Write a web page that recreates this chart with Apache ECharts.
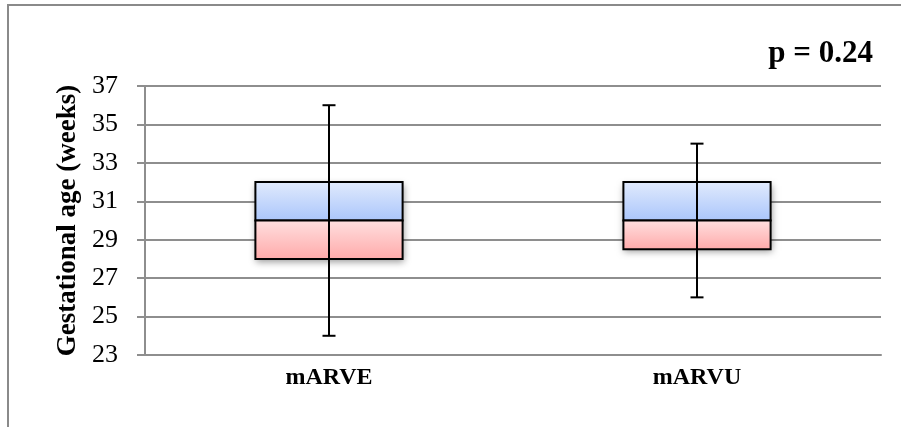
<!DOCTYPE html>
<html>
<head>
<meta charset="utf-8">
<script src="https://cdn.jsdelivr.net/npm/echarts@6/dist/echarts.min.js"></script>
<style>
  html, body { margin: 0; padding: 0; background: #ffffff; }
  #chart { width: 901px; height: 427px; }
</style>
</head>
<body>
<div id="chart"></div>
<script>
// Groups on the horizontal axis
const groups = ['mARVE', 'mARVU'];
// Five-number summaries (weeks)
const whiskerLow = [24, 26];
const quartile1 = [28, 28.5];
const medians = [30, 30];
const quartile3 = [32, 32];
const whiskerHigh = [36, 34];
// Value axis ticks
const yTicks = [23, 25, 27, 29, 31, 33, 35, 37];
const pValueText = 'p = 0.24';

const serif = '"Liberation Serif", "DejaVu Serif", serif';
const gridColor = '#8e8e8e';

const boxData = groups.map((g, i) => [i, whiskerLow[i], quartile1[i], medians[i], quartile3[i], whiskerHigh[i]]);

function renderBox(params, api) {
  const idx = api.value(0);
  const lo = api.coord([idx, api.value(1)]);
  const q1 = api.coord([idx, api.value(2)]);
  const med = api.coord([idx, api.value(3)]);
  const q3 = api.coord([idx, api.value(4)]);
  const hi = api.coord([idx, api.value(5)]);
  const bandW = api.size([1, 0])[0];
  const boxW = bandW * 0.4;
  const cx = lo[0];
  const left = cx - boxW / 2;
  const capHalf = 6.5;

  const upperFill = new echarts.graphic.LinearGradient(0, 0, 0, 1, [
    { offset: 0, color: '#e2ebfd' },
    { offset: 1, color: '#a9c5fb' }
  ]);
  const lowerFill = new echarts.graphic.LinearGradient(0, 0, 0, 1, [
    { offset: 0, color: '#ffe0e0' },
    { offset: 1, color: '#ffa9a9' }
  ]);

  return {
    type: 'group',
    children: [
      {
        type: 'rect',
        shape: { x: left, y: q3[1], width: boxW, height: q1[1] - q3[1] },
        style: {
          fill: '#ffffff',
          shadowBlur: 7,
          shadowOffsetX: 1,
          shadowOffsetY: 3,
          shadowColor: 'rgba(0,0,0,0.4)'
        }
      },
      {
        type: 'rect',
        shape: { x: left, y: q3[1], width: boxW, height: med[1] - q3[1] },
        style: { fill: upperFill, stroke: '#000000', lineWidth: 2 }
      },
      {
        type: 'rect',
        shape: { x: left, y: med[1], width: boxW, height: q1[1] - med[1] },
        style: { fill: lowerFill, stroke: '#000000', lineWidth: 2 }
      },
      {
        type: 'line',
        shape: { x1: cx, y1: hi[1], x2: cx, y2: lo[1] },
        style: { stroke: '#000000', lineWidth: 2 }
      },
      {
        type: 'line',
        shape: { x1: cx - capHalf, y1: hi[1], x2: cx + capHalf, y2: hi[1] },
        style: { stroke: '#000000', lineWidth: 2 }
      },
      {
        type: 'line',
        shape: { x1: cx - capHalf, y1: lo[1], x2: cx + capHalf, y2: lo[1] },
        style: { stroke: '#000000', lineWidth: 2 }
      }
    ]
  };
}

const chart = echarts.init(document.getElementById('chart'), null, { renderer: 'canvas' });

chart.setOption({
  animation: false,
  backgroundColor: '#ffffff',
  grid: { left: 145, right: 20, top: 86, bottom: 72, containLabel: false },
  graphic: [
    {
      type: 'polyline',
      shape: { points: [[8, 427], [8, 5], [901, 5]] },
      style: { stroke: '#8a8a8a', lineWidth: 2, fill: null },
      silent: true
    },
    {
      type: 'text',
      right: 28,
      top: 38,
      style: {
        text: pValueText,
        font: 'bold 31px ' + serif,
        fill: '#000000'
      }
    }
  ],
  xAxis: {
    type: 'category',
    data: groups,
    axisLine: { show: true, lineStyle: { color: gridColor, width: 2 } },
    axisTick: { show: false },
    axisLabel: {
      margin: 11,
      fontFamily: serif,
      fontWeight: 'bold',
      fontSize: 24,
      color: '#000000'
    },
    splitLine: { show: false }
  },
  yAxis: {
    type: 'value',
    min: yTicks[0],
    max: yTicks[yTicks.length - 1],
    interval: 2,
    name: 'Gestational age (weeks)',
    nameLocation: 'middle',
    nameGap: 63,
    nameRotate: 90,
    nameTextStyle: {
      fontFamily: serif,
      fontWeight: 'bold',
      fontSize: 27,
      color: '#000000'
    },
    axisLine: { show: true, lineStyle: { color: gridColor, width: 2 } },
    axisTick: { show: true, inside: false, length: 8, lineStyle: { color: gridColor, width: 2 } },
    axisLabel: {
      margin: 27,
      fontFamily: serif,
      fontSize: 26,
      color: '#000000'
    },
    splitLine: { show: true, lineStyle: { color: gridColor, width: 2 } }
  },
  series: [
    {
      type: 'custom',
      renderItem: renderBox,
      encode: { x: 0, y: [1, 2, 3, 4, 5] },
      data: boxData,
      z: 10
    }
  ]
});
</script>
</body>
</html>
